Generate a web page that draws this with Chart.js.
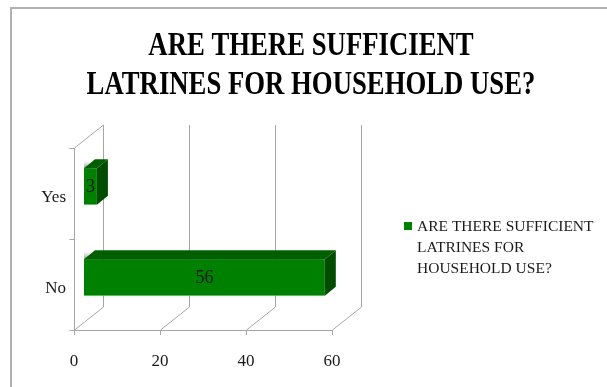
<!DOCTYPE html>
<html>
<head>
<meta charset="utf-8">
<script src="https://cdn.jsdelivr.net/npm/chart.js@4/dist/chart.umd.min.js"></script>
<style>
  html, body { margin: 0; padding: 0; background: #ffffff; }
  #wrap { width: 607px; height: 387px; }
</style>
</head>
<body>
<div id="wrap"><canvas id="c" width="607" height="387"></canvas></div>
<script>
const categories = ['Yes', 'No'];
const seriesValues = [3, 56];
const seriesName = 'ARE THERE SUFFICIENT LATRINES FOR HOUSEHOLD USE?';
const titleLines = ['ARE THERE SUFFICIENT', 'LATRINES FOR HOUSEHOLD USE?'];
const legendLines = ['ARE THERE SUFFICIENT', 'LATRINES FOR', 'HOUSEHOLD USE?'];
const xTicks = [0, 20, 40, 60];

const SERIF = '"Liberation Serif", "DejaVu Serif", serif';
const GRID = '#a6a6a6';
const DEPTH = { dx: 29, dy: -23 };
const BAR_SHIFT = { dx: 10, dy: -7 };
const BAR_DEPTH = { dx: 11, dy: -9 };

const threeD = {
  id: 'threeD',
  beforeDraw(chart) {
    const ctx = chart.ctx;
    ctx.save();
    // outer frame
    ctx.strokeStyle = '#b0b0b0';
    ctx.lineWidth = 2;
    ctx.strokeRect(11, 8, 700, 500);
    // title (condensed bold serif)
    ctx.fillStyle = '#000';
    ctx.font = 'bold 33px ' + SERIF;
    ctx.textAlign = 'center';
    ctx.textBaseline = 'middle';
    const tys = [46, 85];
    titleLines.forEach((t, i) => {
      ctx.save();
      ctx.translate(311, tys[i]);
      ctx.scale(0.81, 1);
      ctx.fillText(t, 0, 0);
      ctx.restore();
    });
    // legend
    ctx.fillStyle = chart.data.datasets[0].backgroundColor;
    ctx.fillRect(404, 222, 8, 8);
    ctx.fillStyle = '#1a1a1a';
    ctx.font = '15.5px ' + SERIF;
    ctx.textAlign = 'left';
    const lys = [227, 248, 269];
    legendLines.forEach((t, i) => ctx.fillText(t, 417, lys[i]));
    ctx.restore();
  },
  beforeDatasetsDraw(chart) {
    const ctx = chart.ctx;
    const xs = chart.scales.x;
    const a = chart.chartArea;
    ctx.save();
    ctx.strokeStyle = GRID;
    ctx.lineWidth = 1;
    ctx.beginPath();
    xTicks.forEach(v => {
      const px = Math.round(xs.getPixelForValue(v)) + 0.5;
      ctx.moveTo(px + DEPTH.dx, a.top + DEPTH.dy);
      ctx.lineTo(px + DEPTH.dx, a.bottom + DEPTH.dy);
      ctx.moveTo(px, a.bottom);
      ctx.lineTo(px + DEPTH.dx, a.bottom + DEPTH.dy);
      ctx.moveTo(px, a.bottom);
      ctx.lineTo(px, a.bottom + 5);
    });
    const L = Math.round(a.left) + 0.5;
    ctx.moveTo(L, a.top);
    ctx.lineTo(L, a.bottom);
    ctx.moveTo(L, a.top);
    ctx.lineTo(L + DEPTH.dx, a.top + DEPTH.dy);
    ctx.moveTo(a.left, Math.round(a.bottom) + 0.5);
    ctx.lineTo(a.right, Math.round(a.bottom) + 0.5);
    const n = categories.length;
    for (let i = 0; i <= n; i++) {
      const py = Math.round(a.top + (a.bottom - a.top) * i / n) + 0.5;
      ctx.moveTo(L - 5, py);
      ctx.lineTo(L, py);
    }
    ctx.stroke();
    ctx.restore();

    ctx.save();
    ctx.translate(BAR_SHIFT.dx, BAR_SHIFT.dy);
    ctx.shadowColor = 'rgba(0,0,0,0.45)';
    ctx.shadowBlur = 5;
    ctx.shadowOffsetX = -4;
    ctx.shadowOffsetY = -3;
  },
  afterDatasetsDraw(chart) {
    const ctx = chart.ctx;
    ctx.shadowColor = 'rgba(0,0,0,0)';
    ctx.shadowBlur = 0;
    ctx.shadowOffsetX = 0;
    ctx.shadowOffsetY = 0;
    const meta = chart.getDatasetMeta(0);
    const vals = chart.data.datasets[0].data;
    meta.data.forEach((bar, i) => {
      const p = bar.getProps(['x', 'y', 'base', 'height'], true);
      const t = p.y - p.height / 2, b = p.y + p.height / 2;
      const x0 = Math.min(p.base, p.x), x1 = Math.max(p.base, p.x);
      ctx.fillStyle = '#005f00';
      ctx.beginPath();
      ctx.moveTo(x0, t);
      ctx.lineTo(x1, t);
      ctx.lineTo(x1 + BAR_DEPTH.dx, t + BAR_DEPTH.dy);
      ctx.lineTo(x0 + BAR_DEPTH.dx, t + BAR_DEPTH.dy);
      ctx.closePath();
      ctx.fill();
      ctx.fillStyle = '#004c00';
      ctx.beginPath();
      ctx.moveTo(x1, t);
      ctx.lineTo(x1 + BAR_DEPTH.dx, t + BAR_DEPTH.dy);
      ctx.lineTo(x1 + BAR_DEPTH.dx, b + BAR_DEPTH.dy);
      ctx.lineTo(x1, b);
      ctx.closePath();
      ctx.fill();
      ctx.strokeStyle = 'rgba(120,200,120,0.6)';
      ctx.lineWidth = 1;
      ctx.beginPath();
      ctx.moveTo(x0, Math.round(b) - 0.5);
      ctx.lineTo(x1, Math.round(b) - 0.5);
      ctx.stroke();
      ctx.fillStyle = '#1a1a1a';
      ctx.font = '18px ' + SERIF;
      ctx.textAlign = 'center';
      ctx.textBaseline = 'middle';
      ctx.fillText(String(vals[i]), (x0 + x1) / 2, p.y + 1);
    });
    ctx.restore();
  }
};

new Chart(document.getElementById('c'), {
  type: 'bar',
  data: {
    labels: categories,
    datasets: [{
      label: seriesName,
      data: seriesValues,
      backgroundColor: '#008000',
      borderWidth: 0,
      barPercentage: 0.5,
      categoryPercentage: 0.8
    }]
  },
  options: {
    indexAxis: 'y',
    responsive: false,
    animation: false,
    devicePixelRatio: 1,
    layout: { padding: { left: 0, right: 275, top: 148, bottom: 0 } },
    plugins: {
      legend: { display: false },
      title: { display: false },
      tooltip: { enabled: false }
    },
    scales: {
      x: {
        min: 0, max: 60,
        grid: { display: false, drawTicks: false },
        border: { display: false },
        ticks: {
          stepSize: 20, padding: 21, color: '#1a1a1a',
          font: { family: SERIF, size: 17 }
        },
        afterFit(s) { s.height = 57; }
      },
      y: {
        grid: { display: false, drawTicks: false },
        border: { display: false },
        ticks: {
          padding: 8, color: '#1a1a1a', labelOffset: 4,
          font: { family: SERIF, size: 17 }
        },
        afterFit(s) { s.width = 74; }
      }
    }
  },
  plugins: [threeD]
});
</script>
</body>
</html>
